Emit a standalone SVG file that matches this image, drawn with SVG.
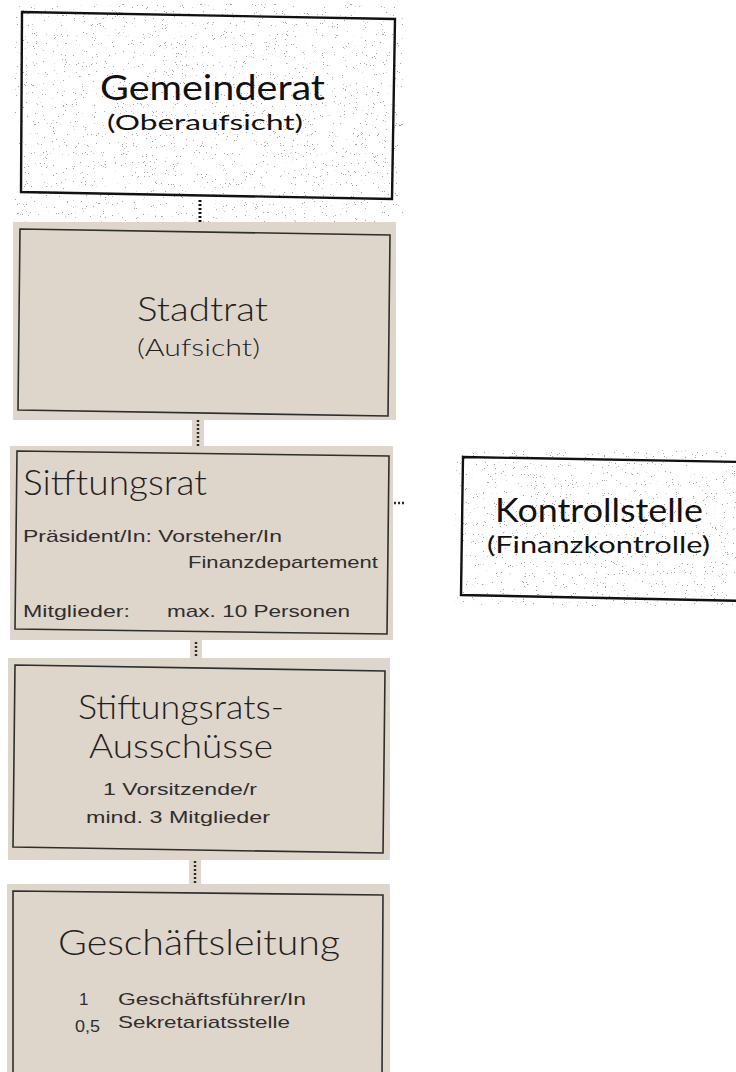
<svg xmlns="http://www.w3.org/2000/svg" width="736" height="1072" viewBox="0 0 736 1072">
  <defs>
    <!-- photocopy grain for the white boxes -->
    <filter id="grain" x="0" y="0" width="100%" height="100%" filterUnits="objectBoundingBox">
      <feTurbulence type="fractalNoise" baseFrequency="1.1" numOctaves="2" seed="7" result="n"/>
      <feColorMatrix in="n" type="matrix" values="0 0 0 0 0.35  0 0 0 0 0.35  0 0 0 0 0.35  -26 0 0 0 7.3"/>
    </filter>
    <style>
      .paper { fill: #dfd6cb; }
      .frame { fill: none; stroke: #2e2e2e; stroke-width: 1.6; }
      .frame-dark { fill: none; stroke: #111; stroke-width: 2.4; }
      .head { font-family: Lato, "Noto Sans", sans-serif; font-weight: 300; fill: #1f1f1f; }
      .head-dark { font-family: Lato, "Noto Sans", sans-serif; fill: #111; }
      .small { font-family: "Liberation Sans", Arial, sans-serif; fill: #2e2e2e; font-size: 17px; }
      .dots { fill: none; stroke: #2a2a2a; stroke-width: 2.4; stroke-dasharray: 2 2; }
    </style>
  </defs>

  <rect width="736" height="1072" fill="#ffffff"/>

  <!-- grain areas -->
  <rect x="15" y="4" width="388" height="218" fill="#fff" filter="url(#grain)"/>
  <rect x="455" y="450" width="281" height="156" fill="#fff" filter="url(#grain)"/>

  <!-- connectors -->
  <g id="connectors">
    <rect class="paper" x="192" y="414" width="12" height="40"/>
    <rect class="paper" x="190" y="632" width="12" height="36"/>
    <rect class="paper" x="189" y="851" width="12" height="42"/>
    <line class="dots" x1="200" y1="200" x2="200" y2="229" style="stroke:#111;stroke-width:3"/>
    <line class="dots" x1="198" y1="416" x2="198" y2="452"/>
    <line class="dots" x1="390" y1="503" x2="405" y2="503"/>
    <line class="dots" x1="196" y1="634" x2="196" y2="666"/>
    <line class="dots" x1="195" y1="853" x2="195" y2="892"/>
  </g>

  <g id="gemeinderat">
    <path class="frame-dark" d="M22,12 L395,19 L392,199 L21,192 Z"/>
    <text class="head-dark" x="212.5" y="100" font-size="35" text-anchor="middle" textLength="225" lengthAdjust="spacingAndGlyphs">Gemeinderat</text>
    <text class="head-dark" x="205" y="130" font-size="22" text-anchor="middle" textLength="196" lengthAdjust="spacingAndGlyphs">(Oberaufsicht)</text>
  </g>

  <g id="stadtrat">
    <rect class="paper" x="13" y="222" width="383" height="198"/>
    <path class="frame" d="M20,229 L390,235 L388,416 L18,410 Z"/>
    <text class="head" x="202.5" y="321" font-size="34" text-anchor="middle" textLength="131" lengthAdjust="spacingAndGlyphs">Stadtrat</text>
    <text class="head" x="198.5" y="356" font-size="23" text-anchor="middle" textLength="123" lengthAdjust="spacingAndGlyphs">(Aufsicht)</text>
  </g>

  <g id="stiftungsrat">
    <rect class="paper" x="10" y="446" width="383" height="194"/>
    <path class="frame" d="M17,451 L389,456 L387,634 L15,629 Z"/>
    <text class="head" x="23" y="495" font-size="35" textLength="184" lengthAdjust="spacingAndGlyphs">Sitftungsrat</text>
    <text class="small" x="23" y="542" textLength="259" lengthAdjust="spacingAndGlyphs">Präsident/In: Vorsteher/In</text>
    <text class="small" x="188" y="568" textLength="190" lengthAdjust="spacingAndGlyphs">Finanzdepartement</text>
    <text class="small" x="23" y="617" textLength="107" lengthAdjust="spacingAndGlyphs">Mitglieder:</text>
    <text class="small" x="167" y="617" textLength="183" lengthAdjust="spacingAndGlyphs">max. 10 Personen</text>
  </g>

  <g id="kontrollstelle">
    <path class="frame-dark" d="M463,457 L745,462 L745,601 L461,595 Z"/>
    <text class="head-dark" x="599" y="522" font-size="33" text-anchor="middle" textLength="208" lengthAdjust="spacingAndGlyphs">Kontrollstelle</text>
    <text class="head-dark" x="598.5" y="553" font-size="24" text-anchor="middle" textLength="223" lengthAdjust="spacingAndGlyphs">(Finanzkontrolle)</text>
  </g>

  <g id="ausschuesse">
    <rect class="paper" x="8" y="658" width="382" height="202"/>
    <path class="frame" d="M15,665 L385,671 L383,853 L13,847 Z"/>
    <text class="head" x="181" y="719" font-size="34" text-anchor="middle" textLength="206" lengthAdjust="spacingAndGlyphs">Stiftungsrats-</text>
    <text class="head" x="181" y="758" font-size="34" text-anchor="middle" textLength="184" lengthAdjust="spacingAndGlyphs">Ausschüsse</text>
    <text class="small" x="180" y="795" text-anchor="middle" textLength="154" lengthAdjust="spacingAndGlyphs">1 Vorsitzende/r</text>
    <text class="small" x="178" y="823" text-anchor="middle" textLength="184" lengthAdjust="spacingAndGlyphs">mind. 3 Mitglieder</text>
  </g>

  <g id="geschaeftsleitung">
    <rect class="paper" x="7" y="884" width="383" height="188"/>
    <path class="frame" d="M13,1076 L13,891 L383,895 L382,1076"/>
    <text class="head" x="199" y="955" font-size="35" text-anchor="middle" textLength="282" lengthAdjust="spacingAndGlyphs">Geschäftsleitung</text>
    <text class="small" x="79" y="1005">1</text>
    <text class="small" x="118" y="1005" textLength="188" lengthAdjust="spacingAndGlyphs">Geschäftsführer/In</text>
    <text class="small" x="75" y="1032" textLength="25" lengthAdjust="spacingAndGlyphs">0,5</text>
    <text class="small" x="118" y="1028" textLength="172" lengthAdjust="spacingAndGlyphs">Sekretariatsstelle</text>
  </g>
</svg>
